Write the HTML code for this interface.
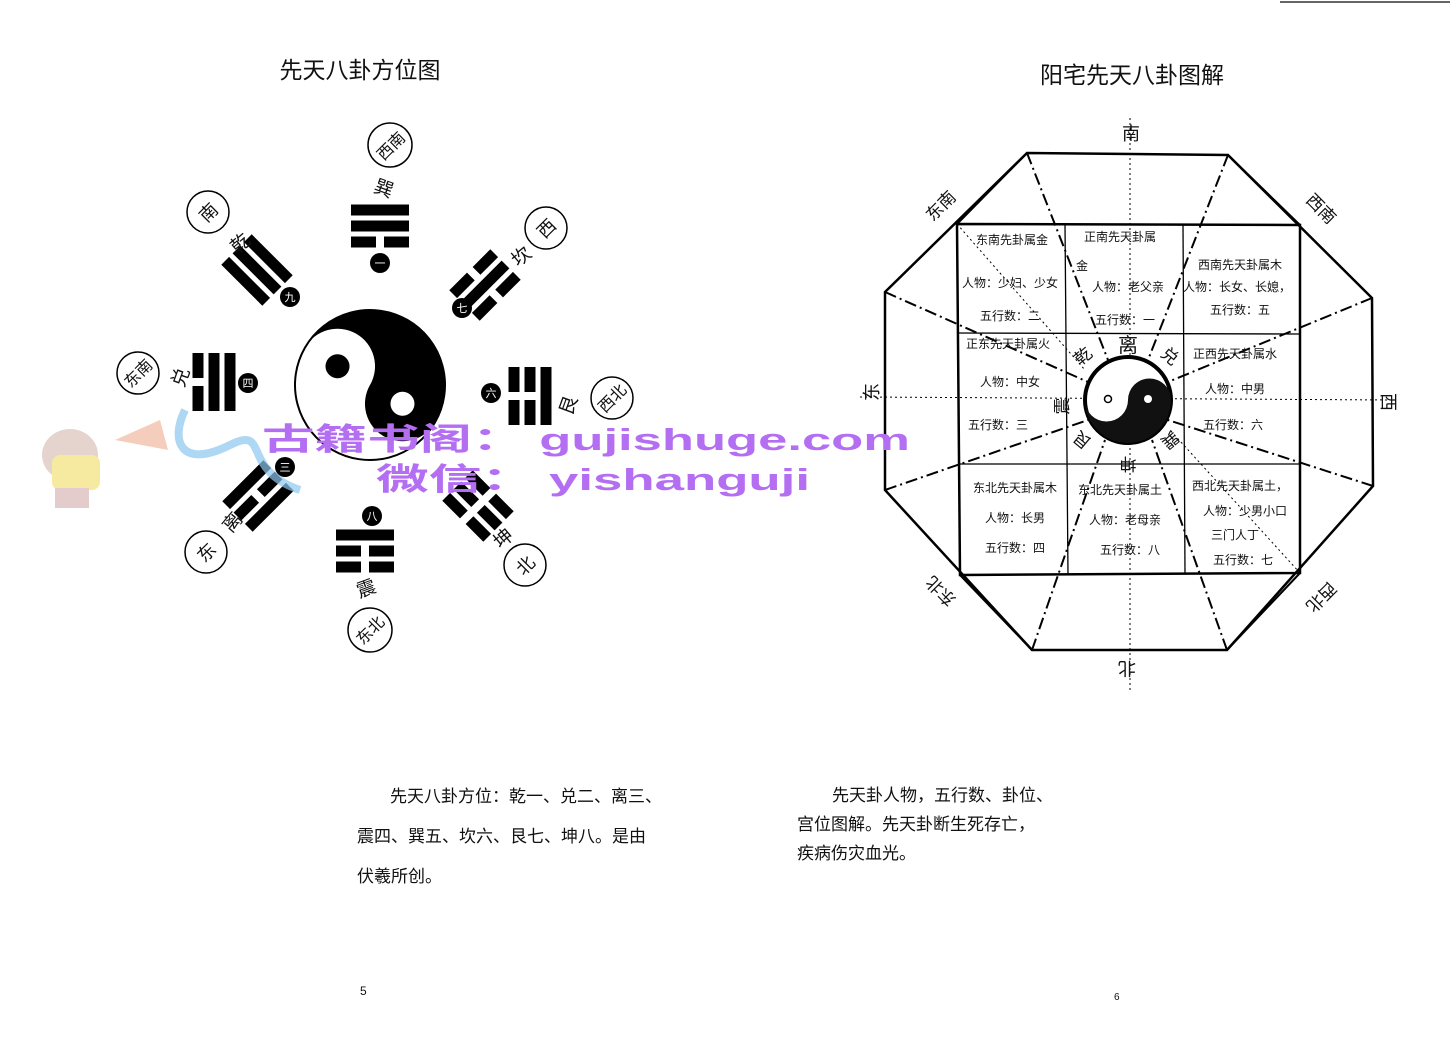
<!DOCTYPE html>
<html><head><meta charset="utf-8"><style>
html,body{margin:0;padding:0;background:#fff;}
svg{display:block;}
text{font-family:"Liberation Sans","Noto Sans CJK SC",sans-serif;fill:#111;}
.wm{font-family:"Liberation Sans","Noto Sans CJK SC",sans-serif;font-weight:bold;fill:#b46ef2;}
</style></head><body>
<svg width="1456" height="1043" viewBox="0 0 1456 1043" xmlns="http://www.w3.org/2000/svg">
<defs>
<g id="S"><rect x="-29" y="-5.5" width="58" height="11"/></g>
<g id="B"><rect x="-29" y="-5.5" width="25" height="11"/><rect x="4" y="-5.5" width="25" height="11"/></g>
</defs>
<line x1="1280" y1="2" x2="1450" y2="2" stroke="#333" stroke-width="1.5"/>

<text x="360" y="78" font-size="23" text-anchor="middle">先天八卦方位图</text>
<text x="1132" y="83" font-size="23" text-anchor="middle">阳宅先天八卦图解</text>

<g transform="rotate(-60 370 385)">
<circle cx="370" cy="385" r="75" fill="#fff" stroke="#000" stroke-width="2"/>
<path d="M370 310 A75 75 0 0 1 370 460 A37.5 37.5 0 0 1 370 385 A37.5 37.5 0 0 0 370 310Z" fill="#000"/>
<circle cx="370" cy="347.5" r="12" fill="#000"/>
<circle cx="370" cy="422.5" r="12" fill="#fff"/>
</g>

<g fill="#000">
<g transform="translate(380 226)"><use href="#S" y="-16"/><use href="#S" y="0"/><use href="#B" y="16"/></g>
<g transform="translate(257 270) rotate(45)"><use href="#S" y="-16"/><use href="#S" y="0"/><use href="#S" y="16"/></g>
<g transform="translate(485 285) rotate(-45)"><use href="#B" y="-16"/><use href="#S" y="0"/><use href="#B" y="16"/></g>
<g transform="translate(214 382) rotate(90)"><use href="#S" y="-16"/><use href="#S" y="0"/><use href="#B" y="16"/></g>
<g transform="translate(530 396) rotate(90)"><use href="#S" y="-16"/><use href="#B" y="0"/><use href="#B" y="16"/></g>
<g transform="translate(258 496) rotate(-45)"><use href="#S" y="-16"/><use href="#B" y="0"/><use href="#S" y="16"/></g>
<g transform="translate(478 506) rotate(45)"><use href="#B" y="-16"/><use href="#B" y="0"/><use href="#B" y="16"/></g>
<g transform="translate(365 551)"><use href="#S" y="-16"/><use href="#B" y="0"/><use href="#B" y="16"/></g>
</g>
<g font-size="11" text-anchor="middle">
<circle cx="380" cy="263" r="10"/><text x="380" y="267" style="fill:#fff">一</text>
<circle cx="290" cy="297" r="10"/><text x="290" y="301" style="fill:#fff">九</text>
<circle cx="462" cy="308" r="10"/><text x="462" y="312" style="fill:#fff">七</text>
<circle cx="248" cy="383" r="10"/><text x="248" y="387" style="fill:#fff">四</text>
<circle cx="491" cy="393" r="10"/><text x="491" y="397" style="fill:#fff">六</text>
<circle cx="285" cy="467" r="10"/><text x="285" y="471" style="fill:#fff">三</text>
<circle cx="372" cy="516" r="10"/><text x="372" y="520" style="fill:#fff">八</text>
</g>
<g font-size="19" text-anchor="middle">
<text x="384" y="195" transform="rotate(20 384 188)">巽</text>
<text x="240" y="250" transform="rotate(-40 240 243)">乾</text>
<text x="521" y="263" transform="rotate(-40 521 256)">坎</text>
<text x="180" y="384" transform="rotate(-70 180 377)">兑</text>
<text x="568" y="412" transform="rotate(-70 568 405)">艮</text>
<text x="232" y="529" transform="rotate(-50 232 522)">离</text>
<text x="503" y="545" transform="rotate(-40 503 538)">坤</text>
<text x="366" y="595" transform="rotate(-20 366 588)">震</text>
</g>
<g fill="#fff" stroke="#000" stroke-width="1.5">
<circle cx="390" cy="145" r="22"/><circle cx="208" cy="212" r="21"/><circle cx="546" cy="228" r="21"/>
<circle cx="138" cy="373" r="21"/><circle cx="612" cy="398" r="21"/><circle cx="206" cy="552" r="21"/>
<circle cx="525" cy="565" r="21"/><circle cx="370" cy="630" r="22"/>
</g>
<g font-size="18" text-anchor="middle">
<text x="390" y="152" font-size="16" transform="rotate(-45 390 145)">西南</text>
<text x="208" y="219" transform="rotate(-45 208 212)">南</text>
<text x="546" y="235" transform="rotate(-45 546 228)">西</text>
<text x="138" y="379" font-size="16" transform="rotate(-45 138 373)">东南</text>
<text x="612" y="404" font-size="16" transform="rotate(-45 612 398)">西北</text>
<text x="206" y="559" transform="rotate(-45 206 552)">东</text>
<text x="525" y="572" transform="rotate(-45 525 565)">北</text>
<text x="370" y="636" font-size="16" transform="rotate(-45 370 630)">东北</text>
</g>

<g stroke="#000" fill="none">
<polygon points="1027,153 1228,155 1372,298 1373,486 1227,650 1032,650 885,490 885,292" stroke-width="2.5"/>
<polygon points="957,224 1300,225 1300,573 960,575" stroke-width="2.5"/>
<g stroke-width="2">
<line x1="1027" y1="153" x2="957" y2="224"/><line x1="1228" y1="155" x2="1300" y2="225"/>
<line x1="1032" y1="650" x2="960" y2="575"/><line x1="1227" y1="650" x2="1300" y2="573"/>
</g>
<g stroke-width="1.3">
<line x1="1065" y1="224" x2="1068" y2="575"/><line x1="1183" y1="225" x2="1185" y2="574"/>
<line x1="957" y1="333" x2="1300" y2="334"/><line x1="958" y1="464" x2="1300" y2="464"/>
</g>
<g stroke-width="2" stroke-dasharray="12,4,2,4">
<line x1="1027" y1="153" x2="1108" y2="360"/><line x1="1228" y1="155" x2="1148" y2="360"/>
<line x1="885" y1="292" x2="1088" y2="382"/><line x1="1372" y1="298" x2="1168" y2="382"/>
<line x1="885" y1="490" x2="1088" y2="420"/><line x1="1373" y1="486" x2="1168" y2="420"/>
<line x1="1032" y1="650" x2="1105" y2="440"/><line x1="1227" y1="650" x2="1152" y2="440"/>
</g>
<g stroke-width="1" stroke-dasharray="2,3">
<line x1="1130" y1="118" x2="1130" y2="690"/><line x1="860" y1="397" x2="1395" y2="400"/>
<line x1="957" y1="224" x2="1085" y2="370"/><line x1="1300" y1="573" x2="1170" y2="430"/>
</g>
</g>
<circle cx="1128" cy="400" r="43" fill="#fff" stroke="#000" stroke-width="4"/>
<path d="M1085 400 A43 43 0 0 0 1171 400 A21.5 21.5 0 0 0 1128 400 A21.5 21.5 0 0 1 1085 400Z" fill="#111"/>
<circle cx="1148" cy="399" r="4" fill="#fff"/>
<circle cx="1108" cy="399" r="3.5" fill="#fff" stroke="#000" stroke-width="1.5"/>

<g font-size="18" text-anchor="middle">
<text x="1131" y="140">南</text>
<text x="1127" y="662" transform="rotate(180 1127 662)">北</text>
<text x="872" y="398" transform="rotate(-90 872 392)">东</text>
<text x="1388" y="408" transform="rotate(90 1388 402)">西</text>
<text x="940" y="212" font-size="17" transform="rotate(-45 940 205)">东南</text>
<text x="1322" y="215" font-size="17" transform="rotate(45 1322 208)">西南</text>
<text x="940" y="599" font-size="17" transform="rotate(-135 940 592)">东北</text>
<text x="1322" y="605" font-size="17" transform="rotate(135 1322 598)">西北</text>
<text x="1128" y="352" font-size="20">离</text>
<text x="1083" y="362" font-size="17" transform="rotate(-40 1083 356)">乾</text>
<text x="1170" y="362" font-size="17" transform="rotate(40 1170 356)">兑</text>
<text x="1062" y="412" font-size="17" transform="rotate(-90 1062 406)">震</text>
<text x="1082" y="446" font-size="17" transform="rotate(-140 1082 440)">艮</text>
<text x="1128" y="470" font-size="17" transform="rotate(180 1128 464)">坤</text>
<text x="1170" y="446" font-size="17" transform="rotate(140 1170 440)">巽</text>
</g>
<g font-size="12" text-anchor="middle">
<text x="1012" y="244">东南先卦属金</text>
<text x="1010" y="287">人物：少妇、少女</text>
<text x="1010" y="320">五行数：二</text>
<text x="1120" y="241">正南先天卦属</text>
<text x="1082" y="270">金</text>
<text x="1128" y="291">人物：老父亲</text>
<text x="1125" y="324">五行数：一</text>
<text x="1240" y="269">西南先天卦属木</text>
<text x="1237" y="291">人物：长女、长媳，</text>
<text x="1240" y="314">五行数：五</text>
<text x="1008" y="348">正东先天卦属火</text>
<text x="1010" y="386">人物：中女</text>
<text x="998" y="429">五行数：三</text>
<text x="1235" y="358">正西先天卦属水</text>
<text x="1235" y="393">人物：中男</text>
<text x="1233" y="429">五行数：六</text>
<text x="1015" y="492">东北先天卦属木</text>
<text x="1015" y="522">人物：长男</text>
<text x="1015" y="552">五行数：四</text>
<text x="1120" y="494">东北先天卦属土</text>
<text x="1125" y="524">人物：老母亲</text>
<text x="1130" y="554">五行数：八</text>
<text x="1240" y="490">西北先天卦属土，</text>
<text x="1245" y="515">人物：少男小口</text>
<text x="1235" y="539">三门人丁</text>
<text x="1243" y="564">五行数：七</text>
</g>

<g opacity="0.7">
<ellipse cx="70" cy="455" rx="28" ry="26" fill="#d9c3b8"/>
<rect x="52" y="455" width="48" height="35" rx="8" fill="#f3e27a"/>
<rect x="55" y="488" width="34" height="20" fill="#d9b7b7"/>
<path d="M115 440 L160 420 L168 450 Z" fill="#f2b8a0"/>
<path d="M185 410 C170 440 180 470 230 445 C270 425 240 470 300 490" stroke="#8cc7ee" stroke-width="8" fill="none"/>
</g>
<text class="wm" x="262" y="450" font-size="31" textLength="648" lengthAdjust="spacingAndGlyphs">古籍书阁： gujishuge.com</text>
<text class="wm" x="376" y="490" font-size="31" textLength="434" lengthAdjust="spacingAndGlyphs">微信： yishanguji</text>

<g font-size="17">
<text x="390" y="802">先天八卦方位：乾一、兑二、离三、</text>
<text x="357" y="842">震四、巽五、坎六、艮七、坤八。是由</text>
<text x="357" y="882">伏羲所创。</text>
<text x="832" y="801">先天卦人物，五行数、卦位、</text>
<text x="797" y="830">宫位图解。先天卦断生死存亡，</text>
<text x="797" y="859">疾病伤灾血光。</text>
</g>
<text x="360" y="995" font-size="12">5</text>
<text x="1114" y="1000" font-size="10">6</text>
</svg>
</body></html>
